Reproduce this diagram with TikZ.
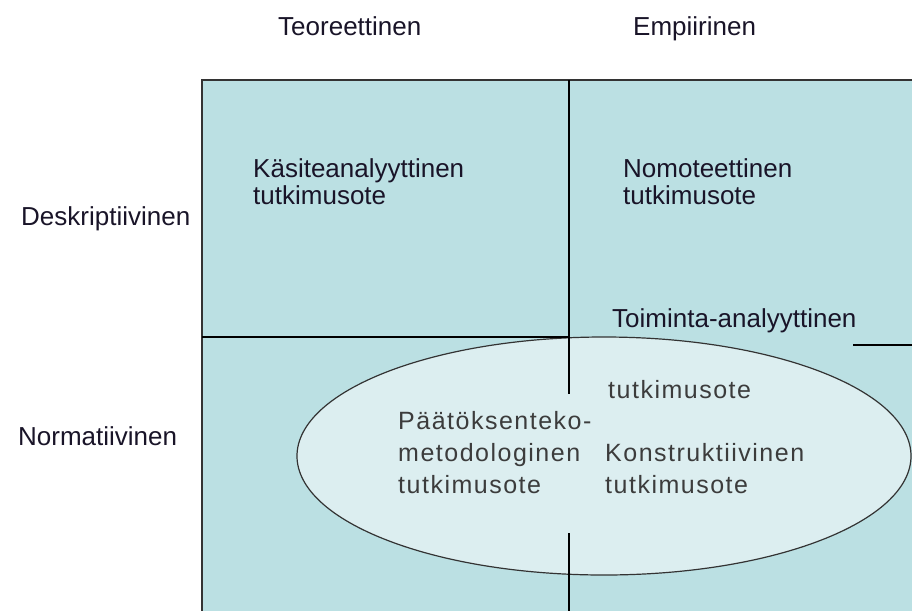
\documentclass[tikz,border=0pt]{standalone}
\usepackage{fontspec}
\setmainfont{Liberation Sans}
\usetikzlibrary{positioning}

\definecolor{boxfill}{RGB}{187,224,227}
\definecolor{ovalfill}{RGB}{220,238,240}
\definecolor{ovaltext}{RGB}{60,60,60}
\definecolor{labeltext}{RGB}{25,20,40}

\tikzset{
  lbl/.style={anchor=base west, inner sep=0pt, align=left, text=labeltext,
    font=\fontsize{26}{27}\selectfont},
  ovallbl/.style={anchor=base west, inner sep=0pt, align=left, text=ovaltext,
    font=\fontsize{25}{32}\selectfont\addfontfeature{LetterSpace=6}},
}

\begin{document}
\begin{tikzpicture}[x=1pt,y=-1pt]
\useasboundingbox (0,0) rectangle (912,611);
% field and oval
\fill[boxfill] (202,80) rectangle (912,611);
\filldraw[fill=ovalfill,draw=black!80,line width=1.2pt] (604,456) ellipse [x radius=307, y radius=119];
\draw[black!80,line width=2pt] (912,80) -- (202,80) -- (202,611);
% cross lines
\coordinate (top) at (569,80);
\coordinate (mid) at (569,394);
\coordinate (low) at (569,533);
\coordinate (bot) at (569,611);
\draw[line width=1.2pt] (top) -- (mid);
\draw[line width=1.2pt] (low) -- (bot);
\draw[line width=1.2pt] (202,337) -- (569,337);
\draw[line width=1.2pt] (853,345) -- (912,345);
% axis labels
\node[lbl] (teor) at (278,35) {Teoreettinen};
\node[lbl] (empi) at (633,35) {Empiirinen};
\node[lbl] (desk) at (21,225) {Deskriptiivinen};
\node[lbl] (norm) at (18,445) {Normatiivinen};
% cells (base = last line)
\node[lbl] (kasite) at (253,204) {Käsiteanalyyttinen\\tutkimusote};
\node[lbl] (nomo) at (623,204) {Nomoteettinen\\tutkimusote};
\node[lbl] (toim) at (612,327) {Toiminta-analyyttinen};
\node[ovallbl] (toimb) at (608,398) {tutkimusote};
\node[ovallbl] (paat) at (398,493) {Päätöksenteko-\\metodologinen\\tutkimusote};
\node[ovallbl] (konst) at (605,493) {Konstruktiivinen\\tutkimusote};
\end{tikzpicture}
\end{document}
